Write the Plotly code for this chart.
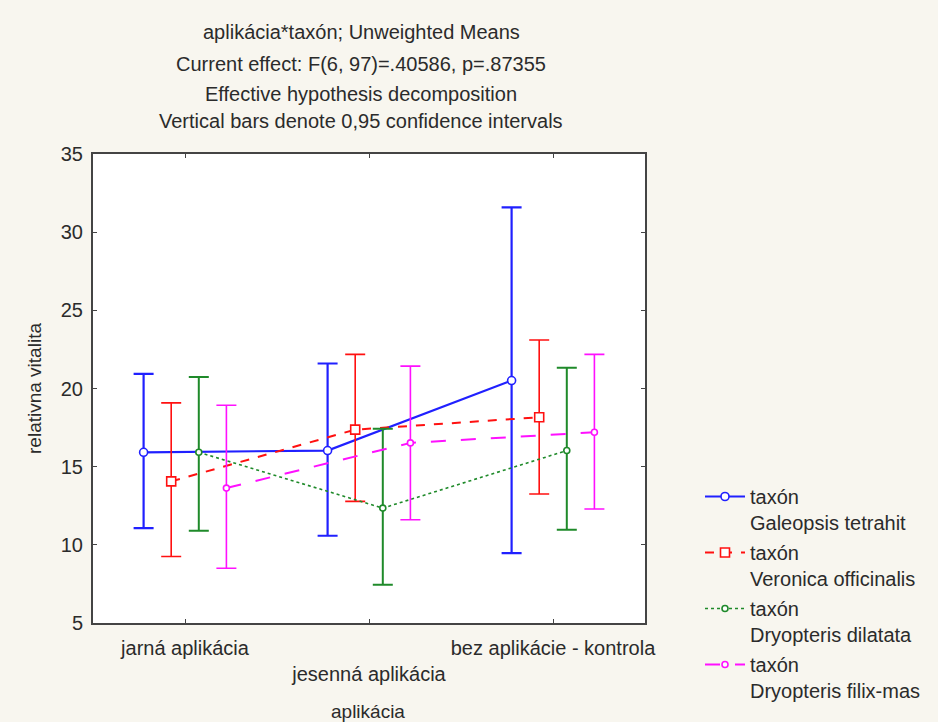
import plotly.graph_objects as go

categories = ["jarná aplikácia", "jesenná aplikácia", "bez aplikácie - kontrola"]
series_names = ["Galeopsis tetrahit", "Veronica officinalis", "Dryopteris dilatata", "Dryopteris filix-mas"]

galeopsis_mean = [15.92, 16.03, 20.51]
galeopsis_upper = [20.94, 21.60, 31.58]
galeopsis_lower = [11.07, 10.58, 9.47]

veronica_mean = [14.06, 17.37, 18.16]
veronica_upper = [19.08, 22.18, 23.10]
veronica_lower = [9.25, 12.78, 13.25]

dilatata_mean = [15.92, 12.35, 16.03]
dilatata_upper = [20.73, 17.42, 21.32]
dilatata_lower = [10.90, 7.44, 10.96]

filixmas_mean = [13.63, 16.52, 17.20]
filixmas_upper = [18.93, 21.43, 22.18]
filixmas_lower = [8.50, 11.60, 12.29]

y_ticks = [5, 10, 15, 20, 25, 30, 35]

title_lines = [
    "aplikácia*taxón; Unweighted Means",
    "Current effect: F(6, 97)=.40586, p=.87355",
    "Effective hypothesis decomposition",
    "Vertical bars denote 0,95 confidence intervals",
]
x_title = "aplikácia"
y_title = "relativna vitalita"

FONT = "Liberation Sans, Arial, sans-serif"
TXT = "#2b2b2b"

# plot area in pixels
L, R, T, B = 93, 645, 154, 623
W, H = 938, 722

styles = [
    dict(color="#2020ff", dash="solid", width=2.2, symbol="circle", msize=8, ew=2.2),
    dict(color="#ff1010", dash="dash", width=2, symbol="square", msize=9, ew=1.6),
    dict(color="#1f8a2a", dash="dot", width=1.6, symbol="circle", msize=6, ew=2.0),
    dict(color="#ff10ff", dash="longdash", width=2, symbol="circle", msize=6, ew=1.6),
]
offsets = [-0.225, -0.075, 0.075, 0.225]

data = [
    (galeopsis_mean, galeopsis_upper, galeopsis_lower),
    (veronica_mean, veronica_upper, veronica_lower),
    (dilatata_mean, dilatata_upper, dilatata_lower),
    (filixmas_mean, filixmas_upper, filixmas_lower),
]

fig = go.Figure()
for k, (name, (m, up, lo)) in enumerate(zip(series_names, data)):
    s = styles[k]
    xs = [i + offsets[k] for i in range(len(categories))]
    fig.add_trace(go.Scatter(
        x=xs, y=m, mode="lines+markers",
        name="taxón<br>" + name,
        legendgroup=str(k),
        line=dict(color=s["color"], dash=s["dash"], width=s["width"]),
        marker=dict(symbol=s["symbol"], size=s["msize"], color="white",
                    line=dict(color=s["color"], width=1.6)),
        error_y=dict(type="data", symmetric=False,
                     array=[u - v for u, v in zip(up, m)],
                     arrayminus=[v - l for v, l in zip(m, lo)],
                     color=s["color"], thickness=s["ew"], width=10),
    ))

def px_x(x):
    return (x - L) / (R - L)

def px_y(y):
    return (B - y) / (B - T)

annotations = []
title_y_px = [32, 64, 94, 121]
for line, ypx in zip(title_lines, title_y_px):
    annotations.append(dict(
        text=line, xref="paper", yref="paper",
        x=px_x(361), y=px_y(ypx),
        xanchor="center", yanchor="middle", showarrow=False,
        font=dict(family=FONT, size=20, color=TXT),
    ))
annotations.append(dict(
    text=x_title, xref="paper", yref="paper",
    x=px_x(368), y=px_y(711), xanchor="center", yanchor="middle", showarrow=False,
    font=dict(family=FONT, size=19, color=TXT),
))

fig.update_layout(
    width=W, height=H,
    margin=dict(l=L, r=W - R, t=T, b=H - B, autoexpand=False),
    paper_bgcolor="#f8f6ef",
    plot_bgcolor="white",
    font=dict(family=FONT, size=19, color=TXT),
    showlegend=True,
    legend=dict(
        x=px_x(700), y=px_y(477), xanchor="left", yanchor="top",
        bgcolor="rgba(0,0,0,0)", font=dict(family=FONT, size=20, color=TXT),
        valign="top", tracegroupgap=1, itemwidth=40,
    ),
    annotations=annotations,
)

fig.update_xaxes(
    range=[-0.5, 2.5], tickmode="array", tickvals=[0, 1, 2],
    ticktext=[categories[0], "<br>" + categories[1], categories[2]],
    showgrid=False, zeroline=False, automargin=False,
    showline=True, linecolor="#444", linewidth=2, mirror="ticks",
    ticks="inside", ticklen=4, tickcolor="#444",
    ticklabelstandoff=6,
    tickfont=dict(family=FONT, size=20, color=TXT),
)
fig.update_yaxes(
    range=[5, 35], tickmode="array", tickvals=y_ticks,
    showgrid=False, zeroline=False, automargin=False,
    showline=True, linecolor="#444", linewidth=2, mirror="ticks",
    ticks="inside", ticklen=4, tickcolor="#444",
    ticklabelstandoff=4,
    tickfont=dict(family=FONT, size=20, color=TXT),
    title=dict(text=y_title, standoff=14, font=dict(family=FONT, size=19, color=TXT)),
)

fig.write_html("out.html")
